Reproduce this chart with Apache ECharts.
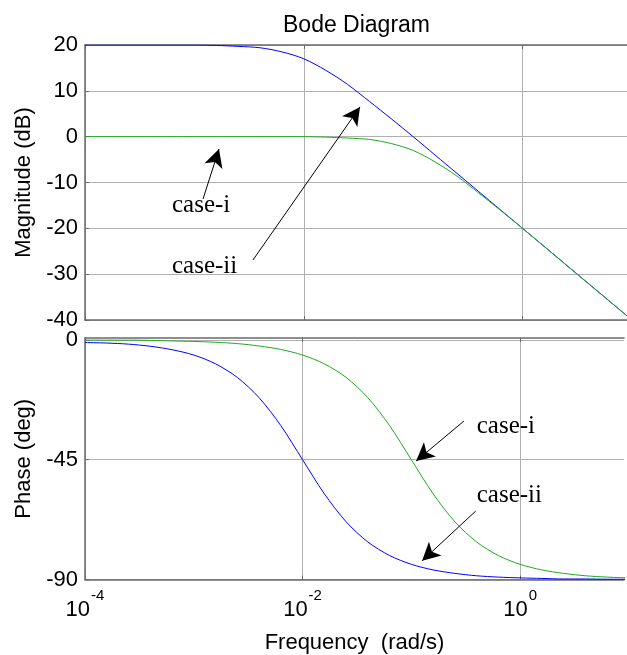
<!DOCTYPE html>
<html>
<head>
<meta charset="utf-8">
<script src="https://cdn.jsdelivr.net/npm/echarts@6/dist/echarts.min.js"></script>
<style>
  html, body { margin: 0; padding: 0; background: #fff; }
  #chart { width: 627px; height: 655px; }
</style>
</head>
<body>
<div id="chart"></div>
<script>
// Frequency samples as log10(omega), omega in rad/s
const logOmega = [-4, -3.8, -3.6, -3.4, -3.2, -3.0, -2.8, -2.6, -2.4, -2.2, -2.0, -1.8, -1.6,
                  -1.4, -1.2, -1.0, -0.8, -0.6, -0.4, -0.2, 0, 0.2, 0.4, 0.6, 0.8, 1.0];

// Magnitude (dB)
const magCase1 = [0, 0, 0, 0, 0, 0, 0, 0, 0, 0, 0, -0.1, -0.3,
                  -0.6, -1.5, -3.0, -5.5, -8.6, -12.3, -16.1, -20.0, -24.0, -28.0, -32.0, -36.0, -40.0];
const magCase2 = [20.0, 20.0, 20.0, 20.0, 20.0, 20.0, 19.9, 19.7, 19.4, 18.5, 17.0, 14.5, 11.4,
                  7.7, 3.9, 0.0, -4.0, -8.0, -12.0, -16.0, -20.0, -24.0, -28.0, -32.0, -36.0, -40.0];

// Phase (deg)
const phaseCase1 = [-0.1, -0.1, -0.1, -0.2, -0.4, -0.6, -0.9, -1.4, -2.3, -3.6, -5.7, -9.0, -14.1,
                    -21.7, -32.2, -45.0, -57.8, -68.3, -75.9, -81.0, -84.3, -86.4, -87.7, -88.6, -89.1, -89.4];
const phaseCase2 = [-1.0, -1.2, -1.6, -2.4, -3.7, -5.7, -9.0, -14.1, -21.7, -32.2, -45.0, -57.8, -68.3,
                    -75.9, -81.0, -84.3, -86.4, -87.7, -88.6, -89.1, -89.4, -89.6, -89.8, -89.8, -89.9, -89.9];

// Tick values
const freqTicks = [-4, -2, 0];
const magTicks = [20, 10, 0, -10, -20, -30, -40];
const phaseTicks = [0, -45, -90];

// Annotation arrows [tailX, tailY, headX, headY] and notes [text, x, y], in axis units
const magArrows = [[-2.921, -13.6, -2.775, -2.7], [-2.464, -26.9, -1.486, 6.5]];
const phaseArrows = [[-0.517, -30.5, -0.956, -45.5], [-0.408, -64.3, -0.901, -83.0]];
const magNotes = [['case-i', -3.205, -15.1], ['case-ii', -3.205, -28.4]];
const phaseNotes = [['case-i', -0.399, -32.7], ['case-ii', -0.399, -58.3]];

const SANS = 'Liberation Sans, Arial, Helvetica, sans-serif';
const SERIF = 'Liberation Serif, Times New Roman, serif';
const gridColor = '#b0b0b0';
const axisColor = '#6a6a6a';
const X_MIN = -4, X_MAX = 0.955;

const pts = (ys) => logOmega.map((x, i) => [x, ys[i]]);

// vertical grid lines only at the labelled decades, none on the clipped right edge
const xSplitColor = () => freqTicks.map(() => gridColor).concat(['rgba(0,0,0,0)']);

function arrowLines(list) {
  return {
    silent: true,
    animation: false,
    symbol: ['none', 'arrow'],
    symbolSize: [14, 18],
    lineStyle: { color: '#000', width: 1, type: 'solid' },
    label: { show: false },
    emphasis: { disabled: true },
    data: list.map(a => [{ coord: [a[0], a[1]] }, { coord: [a[2], a[3]] }])
  };
}
function notes(list) {
  return {
    silent: true,
    animation: false,
    symbol: 'circle',
    symbolSize: 0,
    itemStyle: { color: 'rgba(0,0,0,0)' },
    label: {
      show: true, position: 'right', distance: 0,
      color: '#000', fontFamily: SERIF, fontSize: 25,
      formatter: p => p.name
    },
    data: list.map(n => ({ name: n[0], coord: [n[1], n[2]] }))
  };
}

const xBase = {
  type: 'value', min: X_MIN, max: X_MAX, interval: 2,
  axisLine: { show: true, onZero: false, lineStyle: { color: axisColor, width: 1.5 } },
  axisTick: { show: true, inside: true, length: 4, customValues: freqTicks, lineStyle: { color: axisColor } },
  splitLine: { show: true, lineStyle: { color: xSplitColor(), width: 1 } },
  axisLabel: { show: false }
};
const xTop = {
  type: 'value', min: X_MIN, max: X_MAX, interval: 2, position: 'top',
  axisLine: { show: true, onZero: false, lineStyle: { color: axisColor, width: 1.5 } },
  axisTick: { show: true, inside: true, length: 4, customValues: freqTicks, lineStyle: { color: axisColor } },
  splitLine: { show: false },
  axisLabel: { show: false }
};
const yLabel = (ticks) => ({
  show: true, margin: 7, color: '#000', fontFamily: SANS, fontSize: 22,
  formatter: v => (ticks.indexOf(v) >= 0 ? String(v) : '')
});

const option = {
  backgroundColor: '#fff',
  animation: false,
  title: {
    text: 'Bode Diagram', left: 283, top: 14, padding: 0,
    textStyle: { fontFamily: SANS, fontSize: 23, fontWeight: 'normal', color: '#000' }
  },
  grid: [
    { left: 85, top: 45, right: 0, height: 275 },
    { left: 85, top: 338, right: 0, height: 241.5 }
  ],
  xAxis: [
    Object.assign({}, xBase, { gridIndex: 0 }),
    Object.assign({}, xTop, { gridIndex: 0 }),
    Object.assign({}, xBase, {
      gridIndex: 1,
      name: 'Frequency  (rad/s)', nameLocation: 'middle', nameGap: 52,
      nameTextStyle: { fontFamily: SANS, fontSize: 22, color: '#000' },
      axisLabel: {
        show: true, margin: 9,
        formatter: v => (freqTicks.indexOf(v) >= 0 ? '{b|10}{s|' + v + '}' : ''),
        rich: {
          b: { fontFamily: SANS, fontSize: 22, color: '#000', lineHeight: 32, verticalAlign: 'bottom' },
          s: { fontFamily: SANS, fontSize: 15, color: '#000', lineHeight: 16, verticalAlign: 'top', padding: [0, 0, 0, 1] }
        }
      }
    }),
    Object.assign({}, xTop, { gridIndex: 1 })
  ],
  yAxis: [
    {
      gridIndex: 0, type: 'value', min: -40, max: 20, interval: 10,
      name: 'Magnitude (dB)', nameLocation: 'middle', nameGap: 50,
      nameTextStyle: { fontFamily: SANS, fontSize: 22, color: '#000' },
      axisLine: { show: true, onZero: false, lineStyle: { color: axisColor, width: 1.5 } },
      axisTick: { show: true, inside: true, length: 4, lineStyle: { color: axisColor } },
      splitLine: { show: true, lineStyle: { color: gridColor, width: 1 } },
      axisLabel: yLabel(magTicks)
    },
    {
      gridIndex: 1, type: 'value', min: -90, max: 0.7, interval: 45,
      name: 'Phase (deg)', nameLocation: 'middle', nameGap: 50,
      nameTextStyle: { fontFamily: SANS, fontSize: 22, color: '#000' },
      axisLine: { show: true, onZero: false, lineStyle: { color: axisColor, width: 1.5 } },
      axisTick: { show: true, inside: true, length: 4, customValues: phaseTicks, lineStyle: { color: axisColor } },
      splitLine: { show: true, lineStyle: { color: gridColor, width: 1 } },
      axisLabel: yLabel(phaseTicks)
    }
  ],
  series: [
    {
      name: 'case-ii magnitude', type: 'line', xAxisIndex: 0, yAxisIndex: 0,
      data: pts(magCase2), showSymbol: false, smooth: 0.3, clip: true,
      lineStyle: { color: '#0000ff', width: 1 },
      markLine: arrowLines(magArrows)
    },
    {
      name: 'case-i magnitude', type: 'line', xAxisIndex: 0, yAxisIndex: 0,
      data: pts(magCase1), showSymbol: false, smooth: 0.3, clip: true,
      lineStyle: { color: '#1faa1f', width: 1 },
      markPoint: notes(magNotes)
    },
    {
      name: 'case-ii phase', type: 'line', xAxisIndex: 2, yAxisIndex: 1,
      data: pts(phaseCase2), showSymbol: false, smooth: 0.3, clip: true,
      lineStyle: { color: '#0000ff', width: 1 },
      markLine: arrowLines(phaseArrows)
    },
    {
      name: 'case-i phase', type: 'line', xAxisIndex: 2, yAxisIndex: 1,
      data: pts(phaseCase1), showSymbol: false, smooth: 0.3, clip: true,
      lineStyle: { color: '#1faa1f', width: 1 },
      markPoint: notes(phaseNotes)
    }
  ]
};

const chart = echarts.init(document.getElementById('chart'), null, { renderer: 'canvas' });
chart.setOption(option);
</script>
</body>
</html>
